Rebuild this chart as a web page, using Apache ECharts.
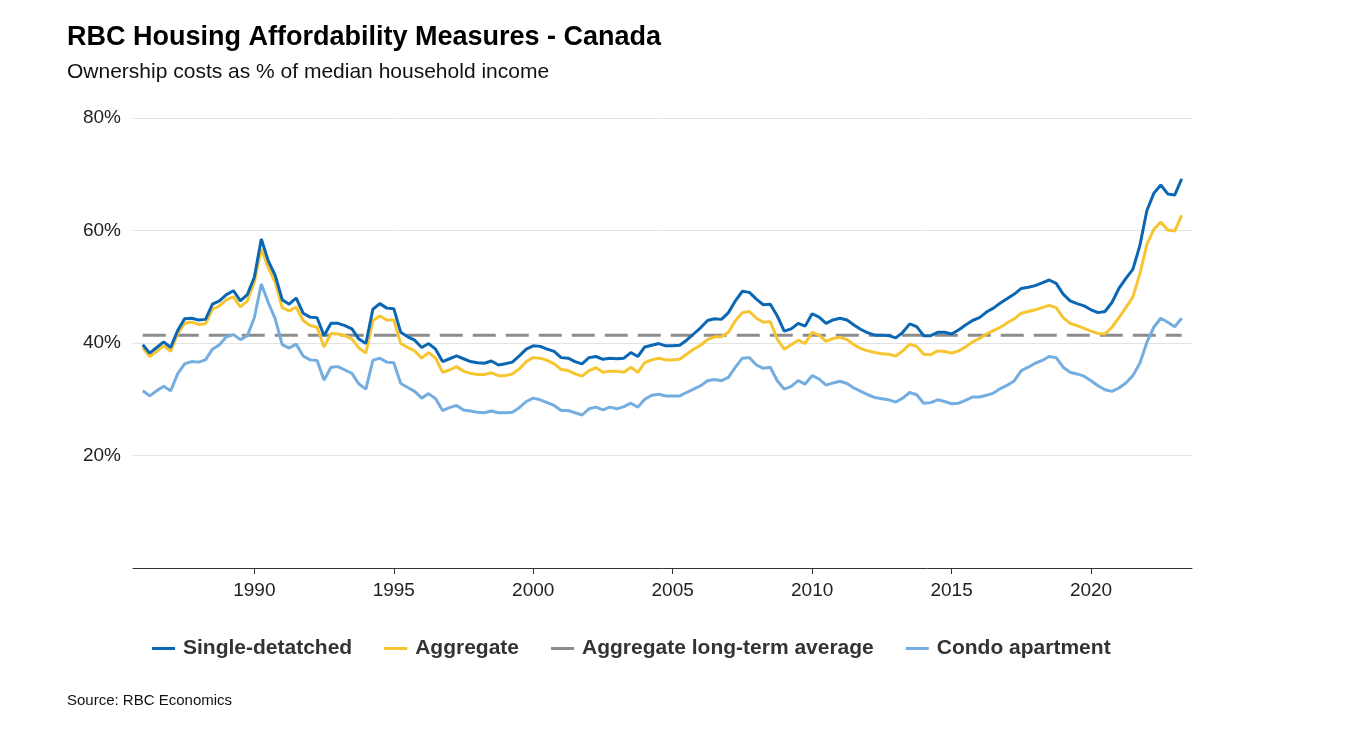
<!DOCTYPE html>
<html>
<head>
<meta charset="utf-8">
<script src="https://cdn.jsdelivr.net/npm/echarts@6/dist/echarts.min.js"></script>
<style>
html,body{margin:0;padding:0;background:#fff;}
#chart{width:1360px;height:734px;}
</style>
</head>
<body>
<div id="chart"></div>
<script>
// Quarterly data, 1986 Q1 to 2023 Q2
var startYear = 1986;
var startQuarter = 1;
var yearTicks = [1990, 1995, 2000, 2005, 2010, 2015, 2020];
var yTicks = [20, 40, 60, 80];

var singleDetached = [
  39.7, 38.2, 39.2, 40.2, 39.2, 42.2, 44.3, 44.4, 44.1, 44.2, 46.9, 47.5, 48.6, 49.3, 47.5, 48.6, 51.7, 58.5, 54.6, 52.0, 47.7, 46.9, 48.0, 45.3, 44.6,
  44.5, 41.3, 43.5, 43.5, 43.1, 42.5, 40.7, 39.9, 46.0, 47.0, 46.2, 46.1, 41.9, 41.1, 40.5, 39.2, 39.9, 38.9, 36.7, 37.2, 37.7, 37.2, 36.7, 36.5,
  36.4, 36.8, 36.1, 36.3, 36.6, 37.7, 38.9, 39.5, 39.4, 38.9, 38.5, 37.4, 37.3, 36.7, 36.3, 37.4, 37.6, 37.1, 37.3, 37.2, 37.3, 38.3, 37.6, 39.3, 39.6,
  39.9, 39.5, 39.5, 39.6, 40.5, 41.6, 42.7, 44.0, 44.3, 44.2, 45.4, 47.5, 49.2, 49.0, 47.8, 46.8, 46.9, 44.8, 42.1, 42.5, 43.5, 43.0, 45.2, 44.6,
  43.5, 44.1, 44.4, 44.1, 43.2, 42.4, 41.8, 41.4, 41.4, 41.3, 40.9, 41.9, 43.4, 42.9, 41.3, 41.3, 41.9, 41.9, 41.6, 42.3, 43.2, 44.0, 44.5, 45.5,
  46.2, 47.1, 47.9, 48.7, 49.7, 49.9, 50.2, 50.7, 51.2, 50.6, 48.7, 47.5, 47.0, 46.6, 45.9, 45.4, 45.6, 47.2, 49.7, 51.5, 53.1, 57.3, 63.5, 66.6, 68.1, 66.5, 66.3, 69.2
];
var aggregate = [
  39.2, 37.6, 38.5, 39.5, 38.5, 41.6, 43.5, 43.7, 43.3, 43.4, 46.0, 46.6, 47.7, 48.2, 46.4, 47.5, 50.8, 56.7, 53.4, 50.8, 46.3, 45.7, 46.4, 44.0, 43.1,
  42.8, 39.3, 41.7, 41.6, 41.3, 40.7, 39.1, 38.2, 44.0, 44.8, 44.1, 44.1, 39.9, 39.2, 38.6, 37.3, 38.3, 37.3, 34.8, 35.2, 35.8, 35.0, 34.6, 34.4,
  34.4, 34.7, 34.2, 34.2, 34.5, 35.4, 36.7, 37.4, 37.3, 36.9, 36.3, 35.3, 35.1, 34.5, 34.1, 35.1, 35.6, 34.8, 35.0, 35.0, 34.8, 35.7, 34.8, 36.5, 37.0,
  37.3, 37.0, 37.0, 37.1, 38.0, 38.9, 39.6, 40.6, 41.1, 41.1, 41.9, 44.0, 45.4, 45.6, 44.4, 43.7, 43.8, 40.7, 38.9, 39.7, 40.5, 39.9, 41.9, 41.4,
  40.3, 40.8, 41.0, 40.6, 39.7, 39.0, 38.6, 38.3, 38.1, 38.0, 37.7, 38.6, 39.8, 39.4, 38.0, 37.9, 38.6, 38.5, 38.2, 38.6, 39.3, 40.2, 40.8, 41.6,
  42.2, 42.8, 43.6, 44.3, 45.3, 45.6, 45.9, 46.3, 46.7, 46.3, 44.5, 43.5, 43.1, 42.6, 42.1, 41.7, 41.6, 42.8, 44.5, 46.3, 48.2, 52.3, 57.5, 60.2, 61.5, 60.1, 59.9, 62.7
];
var condo = [
  31.5, 30.6, 31.5, 32.3, 31.5, 34.5, 36.3, 36.7, 36.6, 37.0, 38.9, 39.7, 41.1, 41.5, 40.6, 41.3, 44.5, 50.5, 47.2, 44.3, 39.7, 39.1, 39.8, 37.7, 37.0,
  36.9, 33.4, 35.7, 35.8, 35.2, 34.6, 32.7, 31.8, 36.9, 37.3, 36.6, 36.5, 32.8, 32.1, 31.4, 30.2, 31.0, 30.1, 28.0, 28.5, 28.9, 28.1, 27.9, 27.7,
  27.6, 27.9, 27.6, 27.6, 27.7, 28.5, 29.6, 30.2, 29.9, 29.4, 28.9, 28.0, 28.0, 27.6, 27.2, 28.3, 28.6, 28.1, 28.6, 28.3, 28.7, 29.3, 28.6, 30.0, 30.7,
  30.9, 30.6, 30.6, 30.6, 31.2, 31.8, 32.4, 33.3, 33.5, 33.3, 33.9, 35.7, 37.3, 37.4, 36.1, 35.5, 35.7, 33.3, 31.8, 32.3, 33.3, 32.7, 34.2, 33.6,
  32.5, 32.9, 33.2, 32.8, 32.0, 31.4, 30.8, 30.3, 30.1, 29.9, 29.5, 30.2, 31.2, 30.8, 29.3, 29.4, 29.9, 29.6, 29.2, 29.3, 29.8, 30.4, 30.4, 30.7,
  31.1, 31.9, 32.5, 33.3, 35.1, 35.7, 36.4, 36.9, 37.6, 37.4, 35.7, 34.8, 34.5, 34.1, 33.3, 32.4, 31.7, 31.4, 32.0, 32.9, 34.2, 36.4, 40.1, 42.8, 44.4, 43.7, 42.9, 44.4
];
var longTermAverage = 41.4;

function quarterX(i) {
  return startYear + (startQuarter - 1 + i) / 4;
}
function toPairs(arr) {
  return arr.map(function (v, i) { return [quarterX(i), v]; });
}
var lastIndex = singleDetached.length - 1;
var avgPairs = [[quarterX(0), longTermAverage], [quarterX(lastIndex), longTermAverage]];

var FONT = '"Liberation Sans", Arial, sans-serif';
var chart = echarts.init(document.getElementById('chart'), null, {renderer: 'canvas'});
chart.setOption({
  backgroundColor: '#ffffff',
  animation: false,
  title: [
    {text: 'RBC Housing Affordability Measures - Canada', left: 62, top: 19,
     textStyle: {fontFamily: FONT, fontSize: 27, fontWeight: 'bold', color: '#000'}},
    {text: 'Ownership costs as % of median household income', left: 62, top: 57,
     textStyle: {fontFamily: FONT, fontSize: 21, fontWeight: 'normal', color: '#111'}},
    {text: 'Source: RBC Economics', left: 62, top: 688,
     textStyle: {fontFamily: FONT, fontSize: 15, fontWeight: 'normal', color: '#111'}}
  ],
  legend: {
    left: 147, top: 633,
    itemWidth: 23, itemHeight: 3, itemGap: 32,
    icon: 'rect',
    textStyle: {fontFamily: FONT, fontSize: 21, fontWeight: 'bold', color: '#333', padding: [0, 0, 0, 3]},
    data: ['Single-detatched', 'Aggregate', 'Aggregate long-term average', 'Condo apartment']
  },
  grid: {left: 133, right: 168, top: 118, bottom: 166, containLabel: false},
  xAxis: {
    type: 'value',
    min: 1985.65, max: 2023.62,
    axisLine: {show: true, lineStyle: {color: '#333', width: 1}},
    axisTick: {show: true, length: 6, lineStyle: {color: '#333'}, customValues: yearTicks},
    axisLabel: {fontFamily: FONT, fontSize: 19, color: '#222', margin: 13, customValues: yearTicks,
      formatter: function (v) { return String(Math.round(v)); }},
    splitLine: {show: false}
  },
  yAxis: {
    type: 'value',
    min: 0, max: 80, interval: 20,
    axisLine: {show: false},
    axisTick: {show: false},
    axisLabel: {fontFamily: FONT, fontSize: 19, color: '#222', margin: 12,
      formatter: function (v) { return yTicks.indexOf(v) >= 0 ? v + '%' : ''; }},
    splitLine: {show: true, lineStyle: {color: '#e3e3e3', width: 1}}
  },
  series: [
    {name: 'Single-detatched', type: 'line', data: toPairs(singleDetached), showSymbol: false,
     lineStyle: {color: '#0b67b3', width: 3}, itemStyle: {color: '#0b67b3'}, z: 4},
    {name: 'Aggregate', type: 'line', data: toPairs(aggregate), showSymbol: false,
     lineStyle: {color: '#f7c530', width: 3}, itemStyle: {color: '#f7c530'}, z: 3},
    {name: 'Aggregate long-term average', type: 'line', data: avgPairs, showSymbol: false,
     lineStyle: {color: '#8c8c8c', width: 3, type: [23, 10]}, itemStyle: {color: '#8c8c8c'}, z: 2},
    {name: 'Condo apartment', type: 'line', data: toPairs(condo), showSymbol: false,
     lineStyle: {color: '#74aee0', width: 3}, itemStyle: {color: '#74aee0'}, z: 2}
  ]
});
</script>
</body>
</html>
